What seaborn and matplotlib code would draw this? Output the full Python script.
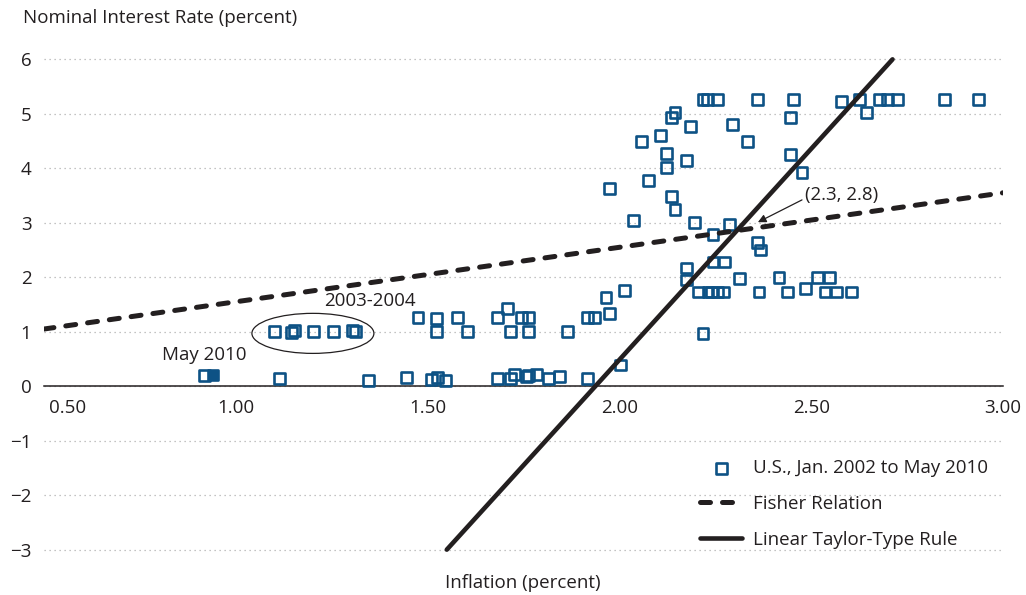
import numpy as np
import pandas as pd
import matplotlib
matplotlib.use("Agg")
import matplotlib.pyplot as plt
import matplotlib.transforms as mtransforms
import seaborn as sns
from matplotlib.patches import Ellipse

inflation = [0.918, 1.113, 1.345, 1.444, 1.511, 1.526, 1.547, 1.683, 1.715, 1.726, 1.757, 1.764,
             1.785, 1.814, 1.845, 1.916, 2.004,
             1.102, 1.146, 1.154, 1.203, 1.254, 1.305, 1.313,
             1.524, 1.605, 1.715, 1.764, 1.865, 2.218,
             1.475, 1.524, 1.577, 1.683, 1.708, 1.744, 1.764, 1.918, 1.936, 1.975, 1.965, 2.014,
             1.975, 2.075, 2.137, 2.145, 2.036, 2.195, 2.244, 2.286,
             2.176, 2.176, 2.244, 2.275, 2.206, 2.231, 2.241, 2.256, 2.271,
             2.314, 2.359, 2.367, 2.364, 2.416, 2.437, 2.486, 2.516, 2.547, 2.536, 2.567, 2.606,
             2.218, 2.229, 2.255, 2.359, 2.455, 2.578, 2.627, 2.677, 2.698, 2.726, 2.847, 2.937,
             2.145, 2.137, 2.185, 2.296, 2.106, 2.057, 2.335, 2.124, 2.124, 2.176, 2.447, 2.447,
             2.476, 2.645]
rate = [0.20, 0.15, 0.11, 0.16, 0.13, 0.16, 0.11, 0.15, 0.15, 0.22, 0.18, 0.20,
        0.22, 0.15, 0.18, 0.15, 0.39,
        1.0, 0.98, 1.02, 1.0, 1.0, 1.02, 1.0,
        1.0, 1.0, 1.0, 1.0, 1.0, 0.97,
        1.26, 1.25, 1.26, 1.26, 1.43, 1.26, 1.26, 1.26, 1.26, 1.34, 1.62, 1.76,
        3.63, 3.77, 3.49, 3.25, 3.05, 3.0, 2.79, 2.97,
        2.17, 1.95, 2.28, 2.28, 1.73, 1.73, 1.73, 1.73, 1.73,
        1.98, 2.63, 2.5, 1.73, 2.0, 1.73, 1.8, 2.0, 2.0, 1.73, 1.73, 1.73,
        5.26, 5.26, 5.26, 5.26, 5.26, 5.22, 5.26, 5.26, 5.26, 5.26, 5.26, 5.26,
        5.02, 4.94, 4.76, 4.8, 4.6, 4.49, 4.49, 4.28, 4.01, 4.15, 4.94, 4.25,
        3.92, 5.02]
may2010_x = [0.940]
may2010_y = [0.20]

fisher_x = [0.5, 3.0]
fisher_y = [1.05, 3.55]
taylor_x = [1.55, 2.712]
taylor_y = [-3.0, 6.0]

xticks = [0.5, 1.0, 1.5, 2.0, 2.5, 3.0]
yticks = [-3, -2, -1, 0, 1, 2, 3, 4, 5, 6]

blue = "#0d5285"
ink = "#231f20"
fs = 13.5

sns.set_style("white")
plt.rcParams['font.family'] = ['Open Sans', 'DejaVu Sans']

fig = plt.figure(figsize=(10.26, 5.95), dpi=100)
W, H = 1026, 595
x0, x1 = 44, 1003
ytop, ybot = 43, 566
ax = fig.add_axes([x0 / W, 1 - ybot / H, (x1 - x0) / W, (ybot - ytop) / H])

df = pd.DataFrame({'inflation': inflation, 'rate': rate})
sns.scatterplot(data=df, x='inflation', y='rate', marker='s', s=62, facecolor='none',
                edgecolor=blue, linewidth=1.9, ax=ax, zorder=3,
                label='U.S., Jan. 2002 to May 2010')
sns.scatterplot(x=may2010_x, y=may2010_y, marker='s', s=62, color=blue,
                edgecolor=blue, linewidth=1.9, ax=ax, zorder=3)

sns.lineplot(x=fisher_x, y=fisher_y, color=ink, lw=3.6, ax=ax, zorder=4,
             dashes=False, linestyle=(0, (2.0, 2.4)), dash_capstyle='round',
             label='Fisher Relation')
sns.lineplot(x=taylor_x, y=taylor_y, color=ink, lw=3.3, ax=ax, zorder=4,
             label='Linear Taylor-Type Rule')

ax.add_patch(Ellipse((1.201, 0.97), 0.318, 0.735, fill=False, edgecolor=ink, lw=0.9, zorder=2))

ax.text(1.35, 1.56, "2003-2004", fontsize=fs, color=ink, ha='center', va='center')
ax.text(0.917, 0.58, "May 2010", fontsize=fs, color=ink, ha='center', va='center')
ax.text(2.484, 3.51, "(2.3, 2.8)", fontsize=fs, color=ink, ha='left', va='center')
ax.annotate("", xy=(2.361, 3.01), xytext=(2.476, 3.42),
            arrowprops=dict(arrowstyle='-|>', color=ink, lw=0.9, mutation_scale=12,
                            shrinkA=0, shrinkB=0))

ax.set_xlim(0.5, 3.0)
ax.set_ylim(-3.3, 6.3)
ax.set_xticks(xticks)
ax.set_xticklabels([f"{v:.2f}" for v in xticks])
ax.set_yticks(yticks)
ax.set_yticklabels([str(v).replace('-', '\u2212') for v in yticks])

for s in ['top', 'right', 'left']:
    ax.spines[s].set_visible(False)
ax.spines['bottom'].set_position(('data', 0))
ax.spines['bottom'].set_color(ink)
ax.spines['bottom'].set_linewidth(1.1)
ax.spines['bottom'].set_zorder(2.5)
ax.tick_params(axis='x', direction='out', length=4, width=0.9, color=ink, pad=5,
               labelsize=fs, labelcolor=ink)
ax.tick_params(axis='y', length=0, pad=9, labelsize=fs, labelcolor=ink)
# first x label sits just right of the axis start
first = ax.get_xticklabels()[0]
first.set_horizontalalignment('left')
first.set_transform(first.get_transform() + mtransforms.ScaledTranslation(5 / 100, 0, fig.dpi_scale_trans))

ax.yaxis.grid(True, linestyle=(0, (1, 3)), color='#b0b0b0', lw=0.9)
ax.xaxis.grid(False)
ax.set_axisbelow(True)

ax.set_xlabel("")
ax.set_ylabel("")
fig.text(23 / W, 1 - 18 / H, "Nominal Interest Rate (percent)", fontsize=fs, color=ink,
         ha='left', va='center')
fig.text(523 / W, 1 - 583 / H, "Inflation (percent)", fontsize=fs, color=ink,
         ha='center', va='center')

leg = ax.legend(loc='upper left', bbox_to_anchor=(700 / W, 1 - 459 / H),
                bbox_transform=fig.transFigure, frameon=False, fontsize=fs,
                handlelength=2.25, handletextpad=0.6, labelspacing=0.95,
                borderpad=0, borderaxespad=0)
for t in leg.get_texts():
    t.set_color(ink)

fig.savefig("out.png", dpi=100)
